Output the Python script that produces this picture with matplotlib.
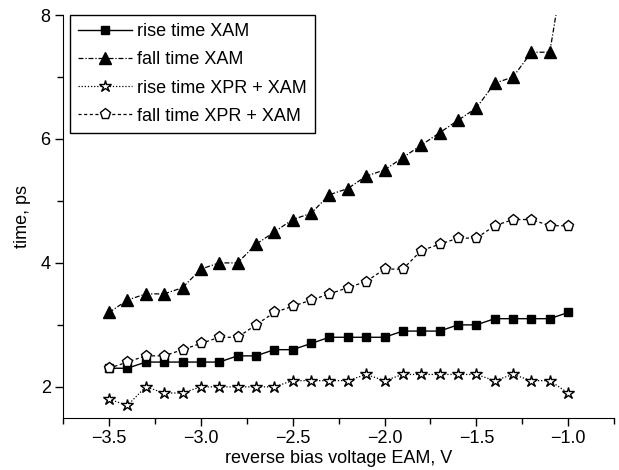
import matplotlib
matplotlib.use("Agg")
import matplotlib.pyplot as plt
from matplotlib.ticker import MultipleLocator

plt.rcParams["font.family"] = ["Liberation Sans", "DejaVu Sans"]
plt.rcParams["font.size"] = 13

voltage = [-3.5, -3.4, -3.3, -3.2, -3.1, -3.0, -2.9, -2.8, -2.7, -2.6, -2.5, -2.4, -2.3,
           -2.2, -2.1, -2.0, -1.9, -1.8, -1.7, -1.6, -1.5, -1.4, -1.3, -1.2, -1.1, -1.0]

rise_xam = [2.3, 2.3, 2.4, 2.4, 2.4, 2.4, 2.4, 2.5, 2.5, 2.6, 2.6, 2.7, 2.8,
            2.8, 2.8, 2.8, 2.9, 2.9, 2.9, 3.0, 3.0, 3.1, 3.1, 3.1, 3.1, 3.2]

# last point lies above the plotted range, only its line shows
fall_xam = [3.2, 3.4, 3.5, 3.5, 3.6, 3.9, 4.0, 4.0, 4.3, 4.5, 4.7, 4.8, 5.1,
            5.2, 5.4, 5.5, 5.7, 5.9, 6.1, 6.3, 6.5, 6.9, 7.0, 7.4, 7.4, 9.2]

rise_xpr = [1.8, 1.7, 2.0, 1.9, 1.9, 2.0, 2.0, 2.0, 2.0, 2.0, 2.1, 2.1, 2.1,
            2.1, 2.2, 2.1, 2.2, 2.2, 2.2, 2.2, 2.2, 2.1, 2.2, 2.1, 2.1, 1.9]

fall_xpr = [2.3, 2.4, 2.5, 2.5, 2.6, 2.7, 2.8, 2.8, 3.0, 3.2, 3.3, 3.4, 3.5,
            3.6, 3.7, 3.9, 3.9, 4.2, 4.3, 4.4, 4.4, 4.6, 4.7, 4.7, 4.6, 4.6]

fig = plt.figure(figsize=(6.19, 4.70), dpi=100)
ax = fig.add_axes([0.102, 0.111, 0.890, 0.857])

ax.plot(voltage, rise_xam, color="black", lw=1.0, ls="-",
        marker="s", ms=6, mfc="black", mec="black", label="rise time XAM")
ax.plot(voltage[:-1], fall_xam[:-1], color="black", lw=0.9, ls=(0, (4, 1.5, 1, 1.5)),
        marker="^", ms=8, mfc="black", mec="black", label="fall time XAM")
ax.plot(voltage[-2:], fall_xam[-2:], color="black", lw=0.9, ls=(0, (4, 1.5, 1, 1.5)))
ax.plot(voltage, rise_xpr, color="black", lw=0.9, ls=(0, (1, 1.5)),
        marker="*", ms=9, mfc="white", mec="black", mew=1.0, label="rise time XPR + XAM")
ax.plot(voltage, fall_xpr, color="black", lw=0.9, ls=(0, (2.5, 2)),
        marker="p", ms=8, mfc="white", mec="black", mew=1.0, label="fall time XPR + XAM")

ax.set_xlim(-3.75, -0.75)
ax.set_ylim(1.5, 8)
ax.xaxis.set_major_locator(MultipleLocator(0.5))
ax.xaxis.set_minor_locator(MultipleLocator(0.25))
ax.yaxis.set_major_locator(MultipleLocator(2))
ax.yaxis.set_minor_locator(MultipleLocator(1))
ax.tick_params(which="major", direction="out", length=6, width=1, pad=3)
ax.tick_params(which="minor", direction="out", length=4, width=1)

ax.spines["top"].set_visible(False)
ax.spines["right"].set_visible(False)

ax.set_xlabel("reverse bias voltage EAM, V", labelpad=2)
ax.set_ylabel("time, ps", labelpad=7)

leg = ax.legend(loc="upper left", bbox_to_anchor=(0.012, 1.0), borderaxespad=0,
                handlelength=3.0, handletextpad=0.3, labelspacing=0.62,
                fancybox=False, edgecolor="black", framealpha=1, borderpad=0.45)
leg.get_frame().set_linewidth(1.0)

fig.savefig("out.png", dpi=100)
